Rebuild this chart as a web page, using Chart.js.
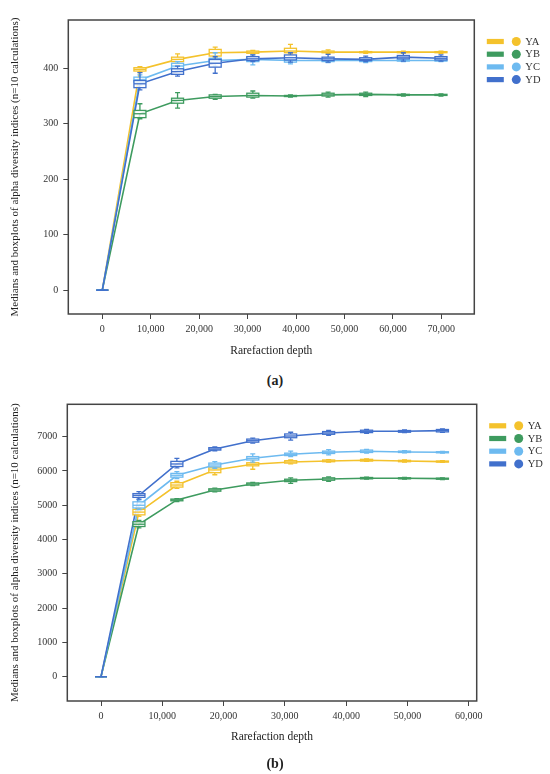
<!DOCTYPE html>
<html>
<head>
<meta charset="utf-8">
<script src="https://cdn.jsdelivr.net/npm/chart.js@4.4.0/dist/chart.umd.min.js"></script>
<style>
  html, body { margin: 0; padding: 0; background: #fff; }
  body { width: 550px; height: 774px; position: relative; overflow: hidden; font-family: "Liberation Serif", serif; }
  .panel { position: absolute; left: 0; width: 550px; }
  .cap { position: absolute; left: 0; width: 550px; text-align: center; font-weight: bold; font-size: 14px; color: #222; }
</style>
</head>
<body>
<div class="panel" style="top:0;height:372px"><canvas id="chartA"></canvas></div>
<div class="cap" style="top:373px">(a)</div>
<div class="panel" style="top:390px;height:370px"><canvas id="chartB"></canvas></div>
<div class="cap" style="top:756px">(b)</div>

<script>
const seriesNames = ["YA", "YB", "YC", "YD"];
const seriesColors = ["#F4C22C", "#3E9B5F", "#6DBAF0", "#4170CC"];
const yTitle = "Medians and boxplots of alpha diversity indices (n=10 calculations)";
const xTitle = "Rarefaction depth";

// panel (a)
const depthA = [0, 7770, 15540, 23310, 31080, 38850, 46620, 54390, 62160, 69930];
const xTicksA = [0, 10000, 20000, 30000, 40000, 50000, 60000, 70000];
const yTicksA = [0, 100, 200, 300, 400];
// each point: [whisker low, q1, median, q3, whisker high]
const aYA = [[0,0,0,0,0], [393,395,398,401,403], [408,412,416,420,426], [420,422,428,434,438], [426,427,429,431,432],
             [426,428,431,436,443], [427,428,429,431,433], [427,428,429,430,431], [427,428,429,430,431], [427,428,429,430,431]];
const aYB = [[0,0,0,0,0], [309,311,318,324,336], [328,337,342,346,356], [344,346,349,352,353], [346,348,351,355,359],
             [348,349,350,351,352], [348,350,352,355,357], [349,351,353,355,357], [350,351,352,353,354], [350,351,352,353,354]];
const aYC = [[0,0,0,0,0], [370,375,379,384,388], [395,399,404,409,412], [404,410,414,418,428], [406,412,416,420,424],
             [408,411,414,417,420], [410,412,414,416,418], [410,412,414,416,418], [412,413,414,415,416], [412,413,414,415,416]];
const aYD = [[0,0,0,0,0], [361,365,372,378,392], [386,389,394,399,404], [391,402,409,416,421], [412,414,417,421,424],
             [411,415,419,424,428], [411,414,417,420,425], [412,414,416,419,422], [413,417,420,423,428], [413,415,418,421,424]];

// panel (b)
const depthB = [0, 6190, 12380, 18570, 24760, 30950, 37140, 43330, 49520, 55710];
const xTicksB = [0, 10000, 20000, 30000, 40000, 50000, 60000];
const yTicksB = [0, 1000, 2000, 3000, 4000, 5000, 6000, 7000];
const bYA = [[0,0,0,0,0], [4680,4720,4800,4880,4920], [5490,5530,5590,5660,5700], [5890,5950,6030,6090,6120], [6050,6150,6195,6240,6330],
             [6210,6230,6262,6300,6320], [6260,6270,6292,6320,6330], [6280,6290,6312,6340,6350], [6260,6270,6292,6310,6320], [6250,6260,6273,6290,6300]];
const bYB = [[0,0,0,0,0], [4340,4380,4446,4520,4560], [5110,5130,5155,5180,5190], [5390,5410,5446,5480,5500], [5570,5590,5621,5650,5670],
             [5640,5690,5729,5760,5800], [5700,5730,5767,5800,5830], [5760,5770,5787,5810,5820], [5760,5770,5787,5800,5810], [5750,5760,5777,5790,5800]];
const bYC = [[0,0,0,0,0], [4870,4920,5000,5100,5160], [5780,5820,5875,5930,5980], [6080,6120,6175,6230,6270], [6260,6320,6370,6420,6500],
             [6420,6450,6487,6520,6580], [6470,6510,6546,6580,6620], [6520,6540,6575,6610,6630], [6530,6540,6555,6580,6590], [6520,6530,6546,6560,6570]];
const bYD = [[0,0,0,0,0], [5180,5230,5290,5340,5400], [6090,6130,6204,6280,6370], [6590,6610,6641,6680,6700], [6810,6840,6883,6930,6960],
             [6900,6970,7020,7080,7130], [7040,7070,7108,7150,7180], [7100,7120,7157,7190,7210], [7120,7130,7157,7180,7200], [7130,7140,7176,7210,7230]];

const font = "Liberation Serif";
const ink = "#333";

// box + whisker marks, drawn through the chart's own scales
const boxPlugin = {
  id: "boxes",
  afterDatasetsDraw(chart) {
    const { ctx, scales: { x, y } } = chart;
    ctx.save();
    chart.data.datasets.forEach(ds => {
      ds.stats.forEach((s, j) => {
        const px = x.getPixelForValue(ds.depth[j]);
        const [lo, q1, md, q3, hi] = s.map(v => y.getPixelForValue(v));
        ctx.strokeStyle = ds.borderColor;
        ctx.lineWidth = 1.3;
        ctx.beginPath();
        ctx.moveTo(px, lo); ctx.lineTo(px, q1);
        ctx.moveTo(px, q3); ctx.lineTo(px, hi);
        ctx.moveTo(px - 2.5, lo); ctx.lineTo(px + 2.5, lo);
        ctx.moveTo(px - 2.5, hi); ctx.lineTo(px + 2.5, hi);
        ctx.stroke();
        ctx.fillStyle = "rgba(255,255,255,0.8)";
        ctx.fillRect(px - 6, q3, 12, q1 - q3);
        ctx.strokeRect(px - 6, q3, 12, q1 - q3);
        ctx.beginPath();
        ctx.moveTo(px - 6, md); ctx.lineTo(px + 6, md);
        ctx.stroke();
      });
    });
    ctx.restore();
  }
};

const framePlugin = {
  id: "frame",
  afterDraw(chart) {
    const { ctx, chartArea: a } = chart;
    ctx.save();
    ctx.strokeStyle = "#444";
    ctx.lineWidth = 1.5;
    ctx.strokeRect(a.left, a.top, a.right - a.left, a.bottom - a.top);
    // legend: bar + dot + name
    ctx.font = "10.5px " + font;
    ctx.textBaseline = "middle";
    seriesNames.forEach((n, i) => {
      const cy = a.top + 21.5 + i * 12.7;
      const lx = a.right + 12.5;
      ctx.fillStyle = seriesColors[i];
      ctx.fillRect(lx, cy - 2.6, 17, 5.2);
      ctx.beginPath();
      ctx.arc(lx + 29.5, cy, 4.5, 0, Math.PI * 2);
      ctx.fill();
      ctx.fillStyle = ink;
      ctx.fillText(n, lx + 38.5, cy + 0.5);
    });
    ctx.restore();
  }
};

function makeChart(id, depth, stats, o) {
  const datasets = stats.map((s, i) => ({
    label: seriesNames[i],
    data: depth.map((d, j) => ({ x: d, y: s[j][2] })),
    depth: depth,
    stats: s,
    borderColor: seriesColors[i],
    borderWidth: 1.6,
    pointRadius: 0,
    tension: 0,
    order: 4 - i
  }));
  return new Chart(document.getElementById(id), {
    type: "line",
    data: { datasets },
    options: {
      responsive: true,
      maintainAspectRatio: false,
      animation: false,
      layout: { padding: { top: o.padTop, right: o.padRight, left: 0, bottom: 0 } },
      plugins: { legend: { display: false }, tooltip: { enabled: false } },
      scales: {
        x: {
          type: "linear",
          min: o.xMin, max: o.xMax,
          afterBuildTicks: s => { s.ticks = o.xTicks.map(v => ({ value: v })); },
          afterFit: s => { s.height = o.xHeight; },
          ticks: { callback: v => v.toLocaleString("en-US"), font: { family: font, size: 10 }, color: ink, padding: 4, maxRotation: 0, autoSkip: false },
          grid: { drawOnChartArea: false, drawTicks: true, tickLength: 5, color: "#444" },
          border: { display: false },
          title: { display: true, text: xTitle, font: { family: font, size: 11.5 }, color: "#222", padding: { top: 0, bottom: o.xTitlePad } }
        },
        y: {
          type: "linear",
          min: o.yMin, max: o.yMax,
          afterBuildTicks: s => { s.ticks = o.yTicks.map(v => ({ value: v })); },
          afterFit: s => { s.width = o.yWidth; },
          ticks: { callback: v => String(v), font: { family: font, size: 10 }, color: ink, padding: 5, autoSkip: false },
          grid: { drawOnChartArea: false, drawTicks: true, tickLength: 5, color: "#444" },
          border: { display: false },
          title: { display: true, text: yTitle, font: { family: font, size: 11 }, color: "#222", padding: { top: 8.5, bottom: 0 } }
        }
      }
    },
    plugins: [boxPlugin, framePlugin]
  });
}

makeChart("chartA", depthA, [aYA, aYB, aYC, aYD], {
  xMin: -7020, xMax: 76810, xTicks: xTicksA,
  yMin: -43, yMax: 487, yTicks: yTicksA,
  padTop: 20, padRight: 75.7, yWidth: 68.3, xHeight: 58, xTitlePad: 14
});

makeChart("chartB", depthB, [bYA, bYB, bYC, bYD], {
  xMin: -5500, xMax: 61300, xTicks: xTicksB,
  yMin: -710, yMax: 7945, yTicks: yTicksB,
  padTop: 14.3, padRight: 73.3, yWidth: 67.3, xHeight: 59, xTitlePad: 16
});
</script>
</body>
</html>
